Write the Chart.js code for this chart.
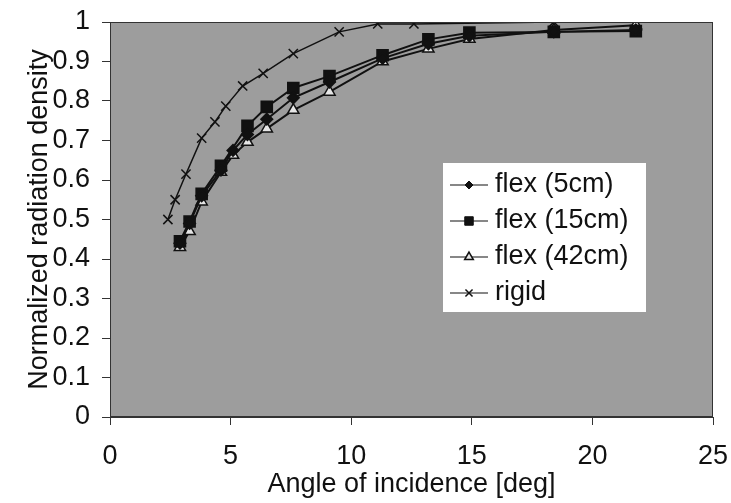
<!DOCTYPE html>
<html lang="en">
<head>
    <meta charset="UTF-8">
    <title>Normalized radiation density vs angle of incidence</title>
    <script src="https://cdn.jsdelivr.net/npm/chart.js"></script>
    <style>
        body { margin: 0; background: #fff; }
    </style>
</head>
<body>
    <canvas id="myChart" width="731" height="503"></canvas>

    <script>
        // Series
        const seriesNames = ['flex (5cm)', 'flex (15cm)', 'flex (42cm)', 'rigid'];

        const flex5Angle = [2.9, 3.3, 3.8, 4.6, 5.1, 5.7, 6.5, 7.6, 9.1, 11.3, 13.2, 14.9, 18.4, 21.8];
        const flex5Value = [0.44, 0.49, 0.56, 0.625, 0.675, 0.715, 0.754, 0.808, 0.848, 0.908, 0.945, 0.965, 0.975, 0.98];

        const flex15Angle = [2.9, 3.3, 3.8, 4.6, 5.7, 6.5, 7.6, 9.1, 11.3, 13.2, 14.9, 18.4, 21.8];
        const flex15Value = [0.445, 0.495, 0.565, 0.636, 0.737, 0.785, 0.833, 0.863, 0.916, 0.956, 0.973, 0.975, 0.977];

        const flex42Angle = [2.9, 3.3, 3.8, 4.6, 5.1, 5.7, 6.5, 7.6, 9.1, 11.3, 13.2, 14.9, 18.4, 21.8];
        const flex42Value = [0.43, 0.47, 0.545, 0.62, 0.663, 0.696, 0.73, 0.777, 0.823, 0.9, 0.932, 0.957, 0.98, 0.992];

        const rigidAngle = [2.4, 2.7, 3.15, 3.8, 4.35, 4.8, 5.5, 6.35, 7.6, 9.5, 11.1, 12.6, 18.4];
        const rigidValue = [0.50, 0.55, 0.615, 0.706, 0.747, 0.787, 0.838, 0.87, 0.92, 0.975, 0.995, 0.995, 1.0];

        const FONT = 'Liberation Sans, Arial, sans-serif';
        const INK = '#111';

        function toPoints(xs, ys) {
            return xs.map((x, i) => ({ x: x, y: ys[i] }));
        }

        const datasets = [
            {
                label: seriesNames[0],
                data: toPoints(flex5Angle, flex5Value),
                borderColor: INK, borderWidth: 2,
                pointStyle: 'rectRot', pointRadius: 5.5,
                pointBackgroundColor: INK, pointBorderColor: INK
            },
            {
                label: seriesNames[1],
                data: toPoints(flex15Angle, flex15Value),
                borderColor: INK, borderWidth: 2,
                pointStyle: 'rect', pointRadius: 7.5,
                pointBackgroundColor: INK, pointBorderColor: INK
            },
            {
                label: seriesNames[2],
                data: toPoints(flex42Angle, flex42Value),
                borderColor: INK, borderWidth: 2,
                pointStyle: 'triangle', pointRadius: 6.5, pointBorderWidth: 1.5,
                pointBackgroundColor: '#e6e6e6', pointBorderColor: INK
            },
            {
                label: seriesNames[3],
                data: toPoints(rigidAngle, rigidValue),
                borderColor: INK, borderWidth: 1.5,
                pointStyle: 'crossRot', pointRadius: 6.5, pointBorderWidth: 1.5,
                pointBackgroundColor: INK, pointBorderColor: INK
            }
        ];

        // grey plot background and frame
        const plotFrame = {
            id: 'plotFrame',
            beforeDatasetsDraw(chart) {
                const { ctx, chartArea: a } = chart;
                ctx.save();
                ctx.fillStyle = '#9d9d9d';
                ctx.fillRect(a.left, a.top, a.right - a.left, a.bottom - a.top);
                ctx.restore();
            },
            afterDatasetsDraw(chart) {
                const { ctx, chartArea: a } = chart;
                ctx.save();
                ctx.strokeStyle = '#333';
                ctx.lineWidth = 1;
                ctx.strokeRect(a.left + 0.5, a.top + 0.5, a.right - a.left - 1, a.bottom - a.top - 1);
                ctx.restore();
            }
        };

        // legend box drawn inside the plot, like the original
        const boxLegend = {
            id: 'boxLegend',
            afterDraw(chart) {
                const ctx = chart.ctx;
                const bx = 443, by = 163, bw = 203, bh = 149;
                ctx.save();
                ctx.fillStyle = '#fff';
                ctx.fillRect(bx, by, bw, bh);
                ctx.font = '27px ' + FONT;
                ctx.textBaseline = 'middle';
                ctx.textAlign = 'left';
                const rowY = [185, 221, 257, 293];
                chart.data.datasets.forEach((ds, i) => {
                    const y = rowY[i];
                    ctx.strokeStyle = INK;
                    ctx.lineWidth = 1.2;
                    ctx.beginPath();
                    ctx.moveTo(450, y);
                    ctx.lineTo(488, y);
                    ctx.stroke();
                    ctx.fillStyle = ds.pointBackgroundColor;
                    ctx.strokeStyle = ds.pointBorderColor;
                    ctx.lineWidth = ds.pointBorderWidth || 1;
                    Chart.helpers.drawPoint(ctx, {
                        pointStyle: ds.pointStyle,
                        radius: ds.pointRadius - 1.5,
                        rotation: 0,
                        borderWidth: ds.pointBorderWidth || 1
                    }, 469, y);
                    ctx.fillStyle = INK;
                    ctx.fillText(ds.label, 495, y);
                });
                ctx.restore();
            }
        };

        const ctx = document.getElementById('myChart').getContext('2d');
        new Chart(ctx, {
            type: 'line',
            data: { datasets: datasets },
            options: {
                responsive: false,
                animation: false,
                layout: { padding: { top: 22, right: 18, left: 0, bottom: 0 } },
                elements: { line: { tension: 0 } },
                scales: {
                    x: {
                        type: 'linear',
                        min: 0, max: 25,
                        afterFit(scale) {
                            scale.height = 86;
                            scale.paddingLeft = 0;
                            scale.paddingRight = 0;
                        },
                        ticks: { stepSize: 5, color: INK, padding: 15, font: { family: FONT, size: 27 } },
                        grid: { drawOnChartArea: false, drawTicks: true, tickLength: 8, color: '#333' },
                        border: { color: '#333' },
                        title: {
                            display: true,
                            text: 'Angle of incidence [deg]',
                            color: INK,
                            padding: { top: 0, bottom: 2 },
                            font: { family: FONT, size: 27 }
                        }
                    },
                    y: {
                        min: 0, max: 1,
                        afterFit(scale) {
                            scale.width = 110;
                            scale.paddingTop = 0;
                            scale.paddingBottom = 0;
                        },
                        ticks: {
                            stepSize: 0.1, color: INK, padding: 12,
                            font: { family: FONT, size: 27 },
                            callback: v => String(Number(v.toFixed(1)))
                        },
                        grid: { drawOnChartArea: false, drawTicks: true, tickLength: 8, color: '#333' },
                        border: { color: '#333' },
                        title: {
                            display: true,
                            text: 'Normalized radiation density',
                            color: INK,
                            padding: { top: 23, bottom: 0 },
                            font: { family: FONT, size: 27 }
                        }
                    }
                },
                plugins: {
                    legend: { display: false },
                    tooltip: { enabled: false }
                }
            },
            plugins: [plotFrame, boxLegend]
        });
    </script>
</body>
</html>
